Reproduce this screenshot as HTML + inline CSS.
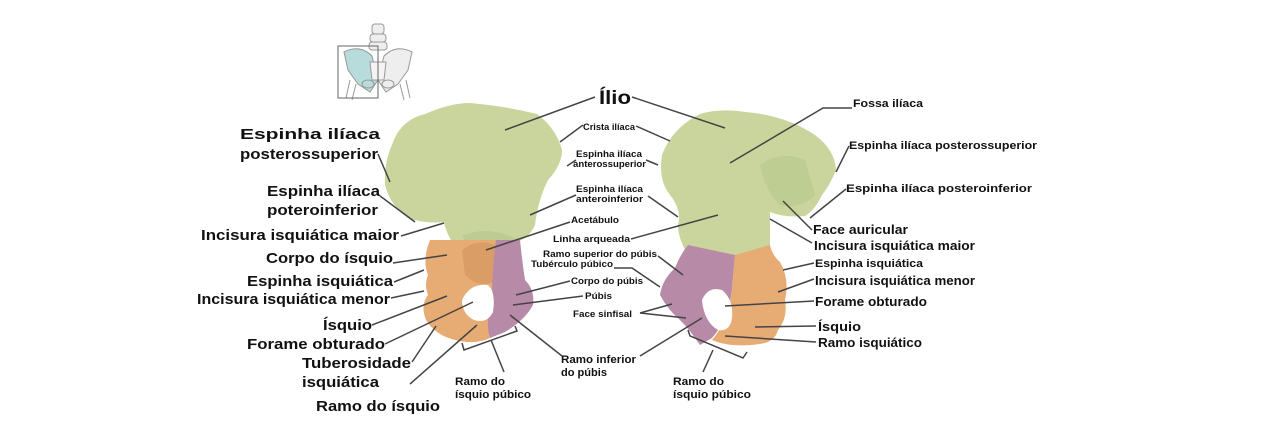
<!DOCTYPE html>
<html><head><meta charset="utf-8"><style>
html,body{margin:0;padding:0;background:#fff;width:1276px;height:437px;overflow:hidden}
svg text{font-family:"Liberation Sans",sans-serif;font-weight:bold;fill:#111}
</style></head><body>
<svg width="1276" height="437" viewBox="0 0 1276 437" xmlns="http://www.w3.org/2000/svg">
<!-- thumbnail -->
<g stroke="#999" stroke-width="1" fill="#eee">
<rect x="372" y="24" width="12" height="10" rx="3"/>
<rect x="370" y="34" width="16" height="8" rx="3"/>
<rect x="369" y="42" width="18" height="8" rx="3"/>
<path d="M344 52 Q360 44 372 56 L378 80 L370 92 L358 84 L348 70 Z" fill="#b8dcdc"/>
<path d="M412 52 Q396 44 384 56 L378 80 L386 92 L398 84 L408 70 Z" fill="#eee"/>
<path d="M370 62 L386 62 L384 80 L372 80 Z" fill="#f4f4f4"/>
<ellipse cx="368" cy="84" rx="6" ry="4" fill="#b8dcdc"/>
<ellipse cx="388" cy="84" rx="6" ry="4"/>
<path d="M350 80 L346 98 M356 84 L352 100 M406 80 L410 98 M400 84 L404 100" fill="none"/>
</g>
<rect x="338" y="46" width="40" height="52" fill="none" stroke="#666" stroke-width="1"/>
<!-- Left bone -->
<path d="M392 145 Q400 120 425 114 Q450 103 470 103 Q505 106 537 114 Q556 128 562 150 Q562 165 548 180 Q538 200 535 225 Q528 240 515 242 L452 242 Q446 232 444 222 Q425 224 408 218 Q390 205 385 185 Q384 162 392 145 Z" fill="#c9d59c"/>
<path d="M462 236 Q485 225 515 238 L510 250 Q490 242 470 250 Z" fill="#b9c890" opacity="0.7"/>
<path d="M430 240 L500 240 L496 270 Q488 300 495 325 L490 338 Q475 345 455 340 Q435 335 426 320 Q420 305 428 295 Q424 285 428 275 Q422 260 430 240 Z" fill="#e7ab74"/>
<path d="M462 250 Q478 238 495 245 L498 280 Q480 290 465 275 Z" fill="#d79a63" opacity="0.8"/>
<path d="M496 240 L520 240 Q522 260 525 280 Q535 290 533 305 Q525 320 505 332 L490 338 Q485 322 492 300 Q492 270 496 240 Z" fill="#b78ba8"/>
<path d="M462 300 Q470 283 488 285 Q496 292 493 312 Q487 324 474 320 Q462 314 462 300 Z" fill="#fff"/>
<!-- Right bone -->
<path d="M662 155 Q672 128 700 114 Q720 108 745 112 Q785 115 815 135 Q835 150 836 170 Q830 185 822 195 Q815 210 805 216 Q785 218 770 212 L770 245 Q750 258 735 258 L690 258 Q678 240 678 225 Q682 210 670 195 Q658 180 662 155 Z" fill="#c9d59c"/>
<path d="M760 165 Q780 150 805 160 L815 195 Q800 210 780 205 Q765 190 760 165 Z" fill="#bccb90" opacity="0.8"/>
<path d="M688 245 L735 255 L732 290 Q728 320 712 338 L700 345 Q690 330 680 320 Q668 310 660 295 Q662 280 675 268 Q680 255 688 245 Z" fill="#b78ba8"/>
<path d="M735 255 L770 245 Q772 255 780 262 Q790 280 785 300 Q788 318 778 330 Q775 342 760 344 Q730 348 712 340 Q728 322 732 290 Z" fill="#e7ab74"/>
<path d="M702 300 Q708 286 722 290 Q734 300 732 318 Q730 332 718 330 Q704 322 702 300 Z" fill="#fff"/>
<!-- connectors -->
<g stroke="#444" stroke-width="1.5" fill="none">
<path d="M595 97 L505 130"/><path d="M632 97 L725 128"/>
<path d="M583 125 L560 142"/><path d="M636 126 L670 141"/>
<path d="M576 160 L567 166"/><path d="M646 160 L658 165"/>
<path d="M576 195 L530 215"/><path d="M648 196 L678 217"/>
<path d="M570 222 L486 250"/>
<path d="M631 239 L718 215"/>
<path d="M658 256 L683 275"/>
<path d="M614 268 L632 268 L660 287"/>
<path d="M570 281 L516 295"/>
<path d="M583 296 L513 305"/>
<path d="M640 313 L672 304 M640 313 L686 318"/>
<path d="M562 356 L510 315"/><path d="M640 356 L702 318"/>
<path d="M378 154 L390 182"/>
<path d="M380 196 L415 222"/>
<path d="M401 236 L444 223"/>
<path d="M393 263 L447 255"/>
<path d="M394 282 L424 270"/>
<path d="M391 298 L424 291"/>
<path d="M372 325 L447 296"/>
<path d="M385 344 L473 302"/>
<path d="M412 362 L436 326"/>
<path d="M410 384 L477 325"/>
<path d="M462 343 L464 350 L517 331 L515 326"/><path d="M491 340 L504 372"/>
<path d="M688 330 L690 336 L743 358 L747 352"/><path d="M713 350 L703 372"/>
<path d="M852 108 L823 108 L730 163"/>
<path d="M849 146 L836 172"/>
<path d="M846 189 L810 218"/>
<path d="M812 230 L783 201"/>
<path d="M812 243 L770 219"/>
<path d="M814 263 L783 270"/>
<path d="M814 279 L778 292"/>
<path d="M814 301 L725 306"/>
<path d="M816 326 L755 327"/>
<path d="M816 342 L725 336"/>
</g>
<!-- left labels -->
<g font-size="15">
<text x="240" y="139" textLength="140" lengthAdjust="spacingAndGlyphs">Espinha ilíaca</text>
<text x="240" y="159" textLength="138" lengthAdjust="spacingAndGlyphs">posterossuperior</text>
<text x="267" y="196" textLength="113" lengthAdjust="spacingAndGlyphs">Espinha ilíaca</text>
<text x="267" y="215" textLength="111" lengthAdjust="spacingAndGlyphs">poteroinferior</text>
<text x="201" y="240" textLength="198" lengthAdjust="spacingAndGlyphs">Incisura isquiática maior</text>
<text x="266" y="263" textLength="127" lengthAdjust="spacingAndGlyphs">Corpo do ísquio</text>
<text x="247" y="286" textLength="146" lengthAdjust="spacingAndGlyphs">Espinha isquiática</text>
<text x="197" y="304" textLength="193" lengthAdjust="spacingAndGlyphs">Incisura isquiática menor</text>
<text x="323" y="330" textLength="49" lengthAdjust="spacingAndGlyphs">Ísquio</text>
<text x="247" y="349" textLength="138" lengthAdjust="spacingAndGlyphs">Forame obturado</text>
<text x="302" y="368" textLength="109" lengthAdjust="spacingAndGlyphs">Tuberosidade</text>
<text x="302" y="387" textLength="77" lengthAdjust="spacingAndGlyphs">isquiática</text>
<text x="316" y="411" textLength="124" lengthAdjust="spacingAndGlyphs">Ramo do ísquio</text>
</g>
<text x="599" y="104" font-size="19" textLength="32" lengthAdjust="spacingAndGlyphs">Ílio</text>
<!-- middle labels -->
<g font-size="9">
<text x="583" y="130" textLength="52" lengthAdjust="spacingAndGlyphs">Crista ilíaca</text>
<text x="576" y="157" textLength="66" lengthAdjust="spacingAndGlyphs">Espinha ilíaca</text>
<text x="573" y="167" textLength="73" lengthAdjust="spacingAndGlyphs">anterossuperior</text>
<text x="576" y="192" textLength="67" lengthAdjust="spacingAndGlyphs">Espinha ilíaca</text>
<text x="576" y="202" textLength="67" lengthAdjust="spacingAndGlyphs">anteroinferior</text>
<text x="571" y="223" textLength="48" lengthAdjust="spacingAndGlyphs">Acetábulo</text>
<text x="553" y="242" textLength="77" lengthAdjust="spacingAndGlyphs">Linha arqueada</text>
<text x="543" y="257" textLength="114" lengthAdjust="spacingAndGlyphs">Ramo superior do púbis</text>
<text x="531" y="267" textLength="82" lengthAdjust="spacingAndGlyphs">Tubérculo púbico</text>
<text x="571" y="284" textLength="72" lengthAdjust="spacingAndGlyphs">Corpo do púbis</text>
<text x="585" y="299" textLength="27" lengthAdjust="spacingAndGlyphs">Púbis</text>
<text x="573" y="317" textLength="59" lengthAdjust="spacingAndGlyphs">Face sinfisal</text>
</g>
<g font-size="11">
<text x="561" y="363" textLength="75" lengthAdjust="spacingAndGlyphs">Ramo inferior</text>
<text x="561" y="376" textLength="46" lengthAdjust="spacingAndGlyphs">do púbis</text>
<text x="455" y="385" textLength="50" lengthAdjust="spacingAndGlyphs">Ramo do</text>
<text x="455" y="398" textLength="76" lengthAdjust="spacingAndGlyphs">ísquio púbico</text>
<text x="673" y="385" textLength="51" lengthAdjust="spacingAndGlyphs">Ramo do</text>
<text x="673" y="398" textLength="78" lengthAdjust="spacingAndGlyphs">ísquio púbico</text>
<text x="853" y="107" textLength="70" lengthAdjust="spacingAndGlyphs">Fossa ilíaca</text>
<text x="849" y="149" textLength="188" lengthAdjust="spacingAndGlyphs">Espinha ilíaca posterossuperior</text>
<text x="846" y="192" textLength="186" lengthAdjust="spacingAndGlyphs">Espinha ilíaca posteroinferior</text>
<text x="815" y="267" textLength="108" lengthAdjust="spacingAndGlyphs">Espinha isquiática</text>
</g>
<g font-size="13">
<text x="813" y="234" textLength="95" lengthAdjust="spacingAndGlyphs">Face auricular</text>
<text x="814" y="250" textLength="161" lengthAdjust="spacingAndGlyphs">Incisura isquiática maior</text>
<text x="815" y="285" textLength="160" lengthAdjust="spacingAndGlyphs">Incisura isquiática menor</text>
<text x="815" y="306" textLength="112" lengthAdjust="spacingAndGlyphs">Forame obturado</text>
<text x="818" y="331" textLength="43" lengthAdjust="spacingAndGlyphs">Ísquio</text>
<text x="818" y="347" textLength="104" lengthAdjust="spacingAndGlyphs">Ramo isquiático</text>
</g>
</svg>
</body></html>
